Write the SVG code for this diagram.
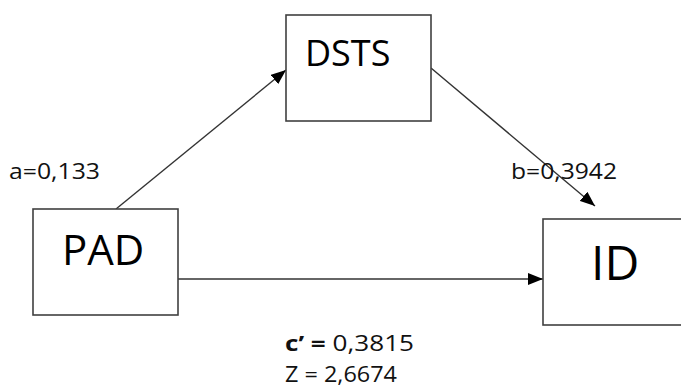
<svg xmlns="http://www.w3.org/2000/svg" width="681" height="388" viewBox="0 0 681 388">
<defs>
<style>
.box{fill:#fff;stroke:#404040;stroke-width:1.6}
.edge{stroke:#333;stroke-width:1.4;fill:none;marker-end:url(#ah)}
.big{font-family:"Open Sans",sans-serif;fill:#000}
.lbl{font-family:"Open Sans",sans-serif;font-size:22px;fill:#111}
</style>
<marker id="ah" markerUnits="userSpaceOnUse" markerWidth="16" markerHeight="12" refX="15" refY="6" orient="auto">
<path d="M0,0 L15,6 L0,12 z" fill="#000"/>
</marker>
</defs>
<rect width="681" height="388" fill="#fff"/>
<g id="connectors">
<line class="edge" x1="116" y1="209" x2="286" y2="70"/>
<line class="edge" x1="431" y1="68" x2="595" y2="206"/>
<line class="edge" x1="178" y1="279" x2="543" y2="279"/>
</g>
<g id="DSTS">
<rect class="box" x="286" y="15" width="145" height="106"/>
<text class="big" x="305" y="66" font-size="36">DSTS</text>
</g>
<g id="PAD">
<rect class="box" x="33" y="209" width="145" height="106"/>
<text class="big" x="62" y="265" font-size="42">PAD</text>
</g>
<g id="ID">
<rect class="box" x="543" y="219" width="150" height="106"/>
<text class="big" x="591" y="280" font-size="48">ID</text>
</g>
<g id="labels">
<text class="lbl" x="9" y="179" textLength="91" lengthAdjust="spacingAndGlyphs">a=0,133</text>
<text class="lbl" x="511" y="179" textLength="106" lengthAdjust="spacingAndGlyphs">b=0,3942</text>
<text class="lbl" x="285" y="351" textLength="129" lengthAdjust="spacingAndGlyphs"><tspan font-weight="bold">c’ =</tspan> 0,3815</text>
<text class="lbl" x="285" y="382" textLength="112" lengthAdjust="spacingAndGlyphs">Z = 2,6674</text>
</g>
</svg>
